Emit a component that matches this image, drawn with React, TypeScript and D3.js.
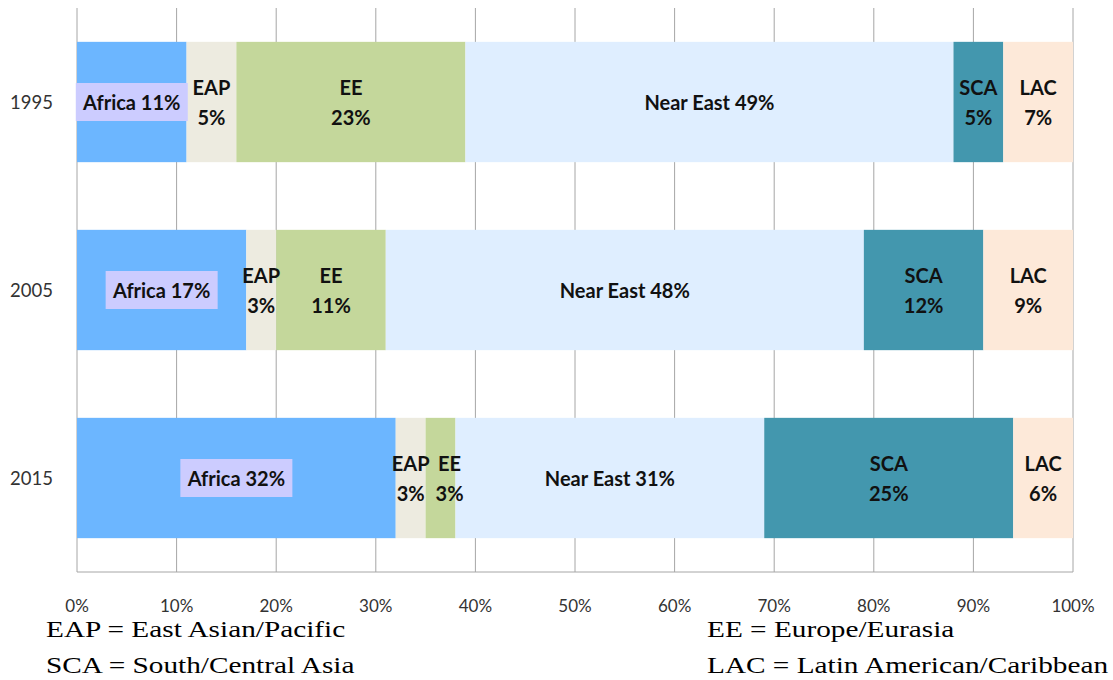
import React from 'react';
import * as d3 from 'd3';

const years = ['1995', '2005', '2015'];
const regions = ['Africa', 'EAP', 'EE', 'Near East', 'SCA', 'LAC'];
const shares1995 = [11, 5, 23, 49, 5, 7];
const shares2005 = [17, 3, 11, 48, 12, 9];
const shares2015 = [32, 3, 3, 31, 25, 6];
const tickValues = [0, 10, 20, 30, 40, 50, 60, 70, 80, 90, 100];
const footnotes = [
  'EAP = East Asian/Pacific',
  'EE = Europe/Eurasia',
  'SCA = South/Central Asia',
  'LAC = Latin American/Caribbean',
];

const colors: Record<string, string> = {
  Africa: '#6cb6ff',
  EAP: '#edebe0',
  EE: '#c4d79b',
  'Near East': '#dfeeff',
  SCA: '#4397ae',
  LAC: '#fde9d9',
};
// regions whose label sits on one line
const oneLine = new Set(['Africa', 'Near East']);
// labels nudged sideways so they don't collide
const labelNudge: Record<string, number> = { '2015-EE': 9 };

const App: React.FC = () => {
  const width = 1113;
  const height = 680;
  const margin = { top: 8, right: 40, bottom: 108, left: 77 };
  const innerW = width - margin.left - margin.right;
  const innerH = height - margin.top - margin.bottom;

  const x = d3.scaleLinear().domain([0, 100]).range([0, innerW]);
  const y = d3.scaleBand().domain(years).range([0, innerH]).paddingInner(0.36).paddingOuter(0.18);

  const rows = [shares1995, shares2005, shares2015].map((vals, i) => {
    const stack = d3.cumsum(vals);
    return {
      year: years[i],
      segs: regions.map((r, j) => ({ region: r, value: vals[j], x0: stack[j] - vals[j], x1: stack[j] })),
    };
  });

  const labelFont = 'Lato, "Open Sans", sans-serif';
  const labelSize = 20;

  return (
    <svg width={width} height={height} style={{ position: 'absolute', left: 0, top: 0 }}>
      <g transform={`translate(${margin.left},${margin.top})`}>
        {tickValues.map((t) => (
          <line key={t} x1={x(t)} x2={x(t)} y1={0} y2={innerH} stroke="#a6a6a6" strokeWidth={1} />
        ))}
        <line x1={0} x2={innerW} y1={innerH} y2={innerH} stroke="#a6a6a6" />
        {rows.map((row) => {
          const by = y(row.year)!;
          const bh = y.bandwidth();
          const cy = by + bh / 2;
          return (
            <g key={row.year}>
              <text x={-24} y={cy} textAnchor="end" dominantBaseline="central" fontFamily={labelFont} fontSize={18.5} fill="#333">
                {row.year}
              </text>
              {row.segs.map((s) => (
                <rect key={s.region} x={x(s.x0)} y={by} width={x(s.x1) - x(s.x0)} height={bh} fill={colors[s.region]} />
              ))}
              {row.segs.map((s) => {
                const cx = (x(s.x0) + x(s.x1)) / 2 + (labelNudge[`${row.year}-${s.region}`] || 0);
                const label = `${s.region} ${s.value}%`;
                if (s.region === 'Africa') {
                  const bw = label.length * 9.8 + 14;
                  return (
                    <g key={s.region}>
                      <rect x={cx - bw / 2} y={cy - 19} width={bw} height={38} fill="#ccccff" />
                      <text x={cx} y={cy} textAnchor="middle" dominantBaseline="central" fontFamily={labelFont} fontWeight="bold" fontSize={labelSize} fill="#111">
                        {label}
                      </text>
                    </g>
                  );
                }
                if (oneLine.has(s.region)) {
                  return (
                    <text key={s.region} x={cx} y={cy} textAnchor="middle" dominantBaseline="central" fontFamily={labelFont} fontWeight="bold" fontSize={labelSize} fill="#111">
                      {label}
                    </text>
                  );
                }
                return (
                  <text key={s.region} textAnchor="middle" fontFamily={labelFont} fontWeight="bold" fontSize={labelSize} fill="#111">
                    <tspan x={cx} y={cy - 15} dominantBaseline="central">{s.region}</tspan>
                    <tspan x={cx} y={cy + 15} dominantBaseline="central">{s.value}%</tspan>
                  </text>
                );
              })}
            </g>
          );
        })}
        {tickValues.map((t) => (
          <text key={t} x={x(t)} y={innerH + 33} textAnchor="middle" dominantBaseline="central" fontFamily={labelFont} fontSize={17} fill="#333">
            {t}%
          </text>
        ))}
      </g>
      {footnotes.map((f, i) => (
        <text
          key={f}
          transform={`translate(${i % 2 === 0 ? 46 : 707},${i < 2 ? 637 : 673}) scale(1.22,1)`}
          fontFamily='"Liberation Serif", "Times New Roman", serif'
          fontSize={24}
          fill="#000"
        >
          {f}
        </text>
      ))}
    </svg>
  );
};

export default App;
